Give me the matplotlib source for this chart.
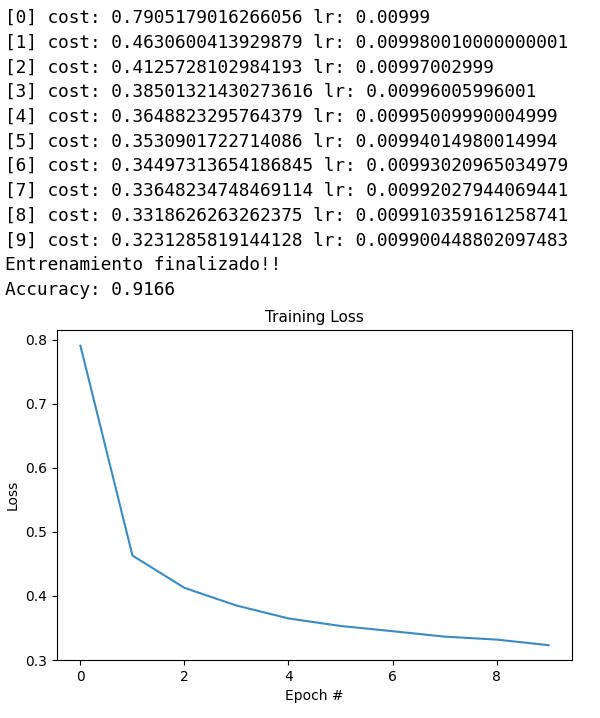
import matplotlib
matplotlib.use("Agg")
from matplotlib import pyplot as plt

epochs = list(range(10))
costs = [0.7905179016266056, 0.4630600413929879, 0.4125728102984193,
         0.38501321430273616, 0.3648823295764379, 0.3530901722714086,
         0.34497313654186845, 0.33648234748469114, 0.3318626263262375,
         0.3231285819144128]
lrs = ["0.00999", "0.009980010000000001", "0.00997002999", "0.00996005996001",
       "0.00995009990004999", "0.00994014980014994", "0.00993020965034979",
       "0.00992027944069441", "0.009910359161258741", "0.009900448802097483"]
accuracy = "0.9166"

fig = plt.figure(figsize=(6, 7.18), dpi=100)

# log de entrenamiento
lines = ["[%d] cost: %s lr: %s" % (i, repr(c), lr) for i, c, lr in zip(epochs, costs, lrs)]
lines += ["Entrenamiento finalizado!!", "Accuracy: " + accuracy]
for i, t in enumerate(lines):
    fig.text(5 / 600, 1 - (18 + i * 24.7) / 718, t, family="DejaVu Sans Mono",
             fontsize=12.8, va="center", ha="left", color="black")

ax = fig.add_axes([57 / 600, 58 / 718, 515 / 600, 330 / 718])
ax.plot(epochs, costs, color="#3b8bc2")
ax.set_title("Training Loss", fontsize=11)
ax.set_xlabel("Epoch #", fontsize=10)
ax.set_ylabel("Loss", fontsize=10)
ax.set_ylim(0.3, 0.815)
ax.set_yticks([0.3, 0.4, 0.5, 0.6, 0.7, 0.8])
ax.set_xticks([0, 2, 4, 6, 8])
ax.tick_params(labelsize=10)

fig.savefig("out.png")
